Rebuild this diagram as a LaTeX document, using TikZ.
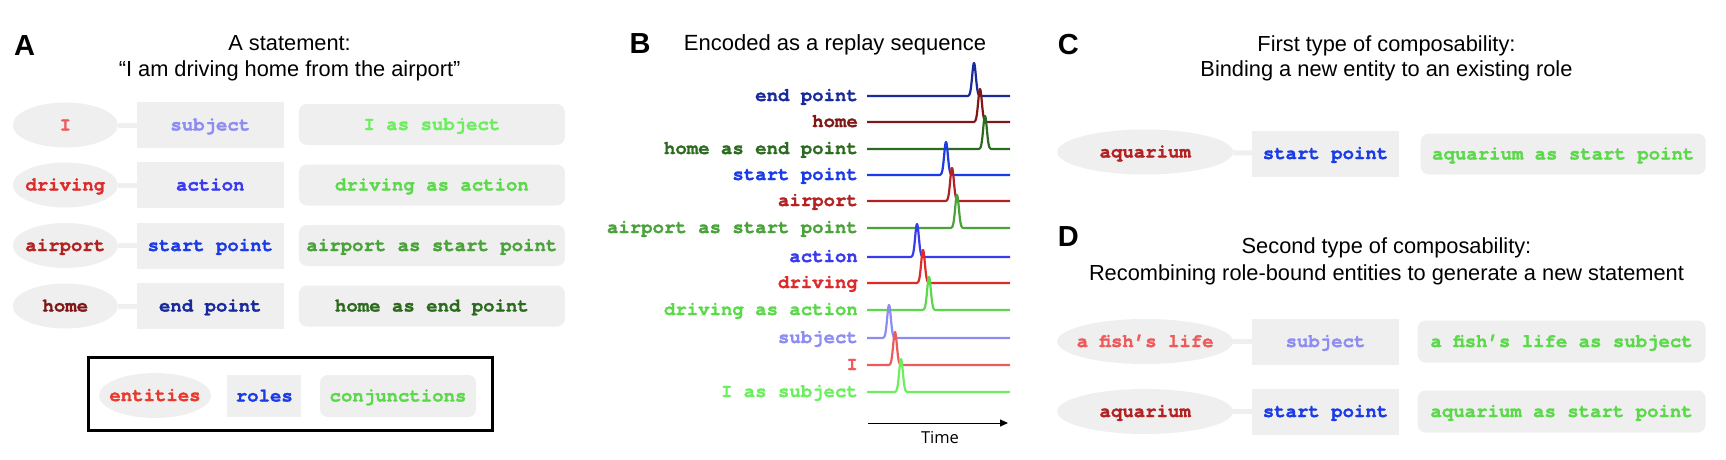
\documentclass[tikz,border=0pt]{standalone}
\usepackage{fontspec}
\setmainfont{Liberation Sans}
\setmonofont[BoldFeatures={FakeBold=1.5}]{TeX Gyre Cursor}
\newfontfamily\timefont{Open Sans}
\usetikzlibrary{arrows.meta, shapes.geometric, calc}
\definecolor{boxfill}{HTML}{EFEFEF}
\definecolor{entA}{HTML}{EE5A5A}
\definecolor{entB}{HTML}{DD2B2B}
\definecolor{entC}{HTML}{B22222}
\definecolor{entD}{HTML}{801818}
\definecolor{entLeg}{HTML}{E8392E}
\definecolor{roleA}{HTML}{8C8CF2}
\definecolor{roleB}{HTML}{3A3AEE}
\definecolor{roleC}{HTML}{1A3BE6}
\definecolor{roleD}{HTML}{182A9C}
\definecolor{conjA}{HTML}{6CEF5E}
\definecolor{conjB}{HTML}{5BD94A}
\definecolor{conjC}{HTML}{4AA23A}
\definecolor{conjD}{HTML}{2C6B1F}
% one trace of the replay: colour, baseline, peak position, label node
\newcommand{\spike}[4]{%
  \pgfmathsetmacro{\spkA}{#3-8}\pgfmathsetmacro{\spkB}{#3+8}%
  \draw[trace, #1] ([xshift=9pt]#4.east) -- (\spkA,#2)
    -- plot[domain=\spkA:\spkB, samples=41]
       (\x,{#2-33*exp(-((\x-#3)/2.6)*((\x-#3)/2.6))})
    -- (1010,#2);}

\begin{document}
\begin{tikzpicture}[x=1pt, y=-1pt,
    panel/.style={inner sep=0, font=\bfseries\fontsize{29}{31}\selectfont},
    heading/.style={anchor=base, inner sep=0, font=\fontsize{21.8}{26}\selectfont},
    token/.style={inner sep=0, text height=11pt, text depth=0pt,
                  font=\ttfamily\bfseries\fontsize{19}{22}\selectfont},
    entity/.style={ellipse, fill=boxfill, minimum width=105pt, minimum height=45pt,
                   execute at begin node={\hbox to 0pt\bgroup\hss},
                   execute at end node={\hss\egroup}},
    role/.style={rectangle, fill=boxfill, minimum width=147pt, minimum height=46pt},
    conj/.style={rectangle, rounded corners=8pt, fill=boxfill,
                 minimum width=266pt, minimum height=41pt},
    link/.style={draw=boxfill, line width=5pt},
    tlabel/.style={anchor=east, inner sep=0, text height=12pt, text depth=2pt,
                   font=\ttfamily\bfseries\fontsize{19}{22}\selectfont},
    trace/.style={line width=2.2pt, line join=round}]
  \useasboundingbox (0,0) rectangle (1726,460);

  % A: the statement
  \node[panel] (labA) at (24.6,46) {A};
  \node[heading] (headA1) at (289.6,51) {A statement:};
  \node[heading] (headA2) at (289.6,77) {“I am driving home from the airport”};

  \node[entity, token, text=entA] (eI) at (65.3,125) {I};
  \node[role, token, text=roleA] (rI) at (210.3,125) {subject};
  \node[conj, token, text=conjA] (cI) at (431.9,124.5) {I as subject};
  \draw[link] (eI) -- (rI);

  \node[entity, token, text=entB] (eDrive) at (65.3,185) {driving};
  \node[role, token, text=roleB] (rDrive) at (210.3,185) {action};
  \node[conj, token, text=conjB] (cDrive) at (431.9,185) {driving as action};
  \draw[link] (eDrive) -- (rDrive);

  \node[entity, token, text=entC] (eAir) at (65.3,245.5) {airport};
  \node[role, token, text=roleC] (rAir) at (210.3,245.5) {start point};
  \node[conj, token, text=conjC] (cAir) at (431.9,245.5) {airport as start point};
  \draw[link] (eAir) -- (rAir);

  \node[entity, token, text=entD] (eHome) at (65.3,306) {home};
  \node[role, token, text=roleD] (rHome) at (210.3,306) {end point};
  \node[conj, token, text=conjD] (cHome) at (431.9,306) {home as end point};
  \draw[link] (eHome) -- (rHome);

  % legend
  \node[draw, line width=3pt, minimum width=404pt, minimum height=73pt,
        inner sep=0] (legend) at (290,394) {};
  \node[entity, token, minimum width=112pt, text=entLeg] (legEnt) at (155,395.5) {entities};
  \node[role, token, minimum width=74pt, minimum height=42pt, text=roleC] (legRole) at (264.3,396) {roles};
  \node[conj, token, minimum width=156pt, minimum height=42pt, text=conjB] (legConj) at (398,396) {conjunctions};

  % B: the replay sequence
  \node[panel] (labB) at (640,44) {B};
  \node[heading, font=\fontsize{22}{26}\selectfont] (headB) at (835,51) {Encoded as a replay sequence};

  \node[tlabel, text=roleD] (tEnd) at (858,96) {end point};
  \node[tlabel, text=entD] (tHome) at (858,122) {home};
  \node[tlabel, text=conjD] (tHomeEnd) at (858,149) {home as end point};
  \node[tlabel, text=roleC] (tStart) at (858,175) {start point};
  \node[tlabel, text=entC] (tAir) at (858,201) {airport};
  \node[tlabel, text=conjC] (tAirStart) at (858,228) {airport as start point};
  \node[tlabel, text=roleB] (tAct) at (858,257) {action};
  \node[tlabel, text=entB] (tDrive) at (858,283) {driving};
  \node[tlabel, text=conjB] (tDriveAct) at (858,310) {driving as action};
  \node[tlabel, text=roleA] (tSubj) at (858,338) {subject};
  \node[tlabel, text=entA] (tI) at (858,365) {I};
  \node[tlabel, text=conjA] (tISubj) at (858,392) {I as subject};

  \spike{roleD}{96}{974}{tEnd}
  \spike{entD}{122}{980}{tHome}
  \spike{conjD}{149}{985}{tHomeEnd}
  \spike{roleC}{175}{946}{tStart}
  \spike{entC}{201}{952}{tAir}
  \spike{conjC}{228}{957}{tAirStart}
  \spike{roleB}{257}{917}{tAct}
  \spike{entB}{283}{923}{tDrive}
  \spike{conjB}{310}{929}{tDriveAct}
  \spike{roleA}{338}{889}{tSubj}
  \spike{entA}{365}{895}{tI}
  \spike{conjA}{392}{901}{tISubj}

  \coordinate (time0) at (868,423);
  \coordinate (time1) at (1008,423);
  \draw[-{Triangle[length=8pt, width=7pt]}, line width=1pt] (time0) -- (time1);
  \node[anchor=base, inner sep=0, font=\timefont\fontsize{16.5}{20}\selectfont]
    (timeLab) at (940,443) {Time};

  % C: a new entity in an old role
  \node[panel] (labC) at (1068.4,45) {C};
  \node[heading] (headC1) at (1386.5,51.5) {First type of composability:};
  \node[heading] (headC2) at (1386.5,76.5) {Binding a new entity to an existing role};

  \node[entity, token, minimum width=176pt, text=entC] (eAqC) at (1145.2,152) {aquarium};
  \node[role, token, text=roleC] (rAqC) at (1325.5,153.5) {start point};
  \node[conj, token, minimum width=285pt, text=conjB] (cAqC) at (1563.2,154) {aquarium as start point};
  \draw[link] (eAqC) -- (rAqC);

  % D: recombining bound entities
  \node[panel] (labD) at (1068.4,237) {D};
  \node[heading] (headD1) at (1386.5,253) {Second type of composability:};
  \node[heading] (headD2) at (1386.5,280) {Recombining role-bound entities to generate a new statement};

  \node[entity, token, minimum width=176pt, text=entA] (eFish) at (1145.2,341.5) {a fish’s life};
  \node[role, token, text=roleA] (rFish) at (1325.5,341.5) {subject};
  \node[conj, token, minimum width=288pt, minimum height=42pt, text=conjB] (cFish) at (1561.6,341.5) {a fish’s life as subject};
  \draw[link] (eFish) -- (rFish);

  \node[entity, token, minimum width=176pt, text=entC] (eAqD) at (1145.2,411.5) {aquarium};
  \node[role, token, text=roleC] (rAqD) at (1325.5,411.5) {start point};
  \node[conj, token, minimum width=288pt, minimum height=42pt, text=conjB] (cAqD) at (1561.6,411.5) {aquarium as start point};
  \draw[link] (eAqD) -- (rAqD);
\end{tikzpicture}
\end{document}
